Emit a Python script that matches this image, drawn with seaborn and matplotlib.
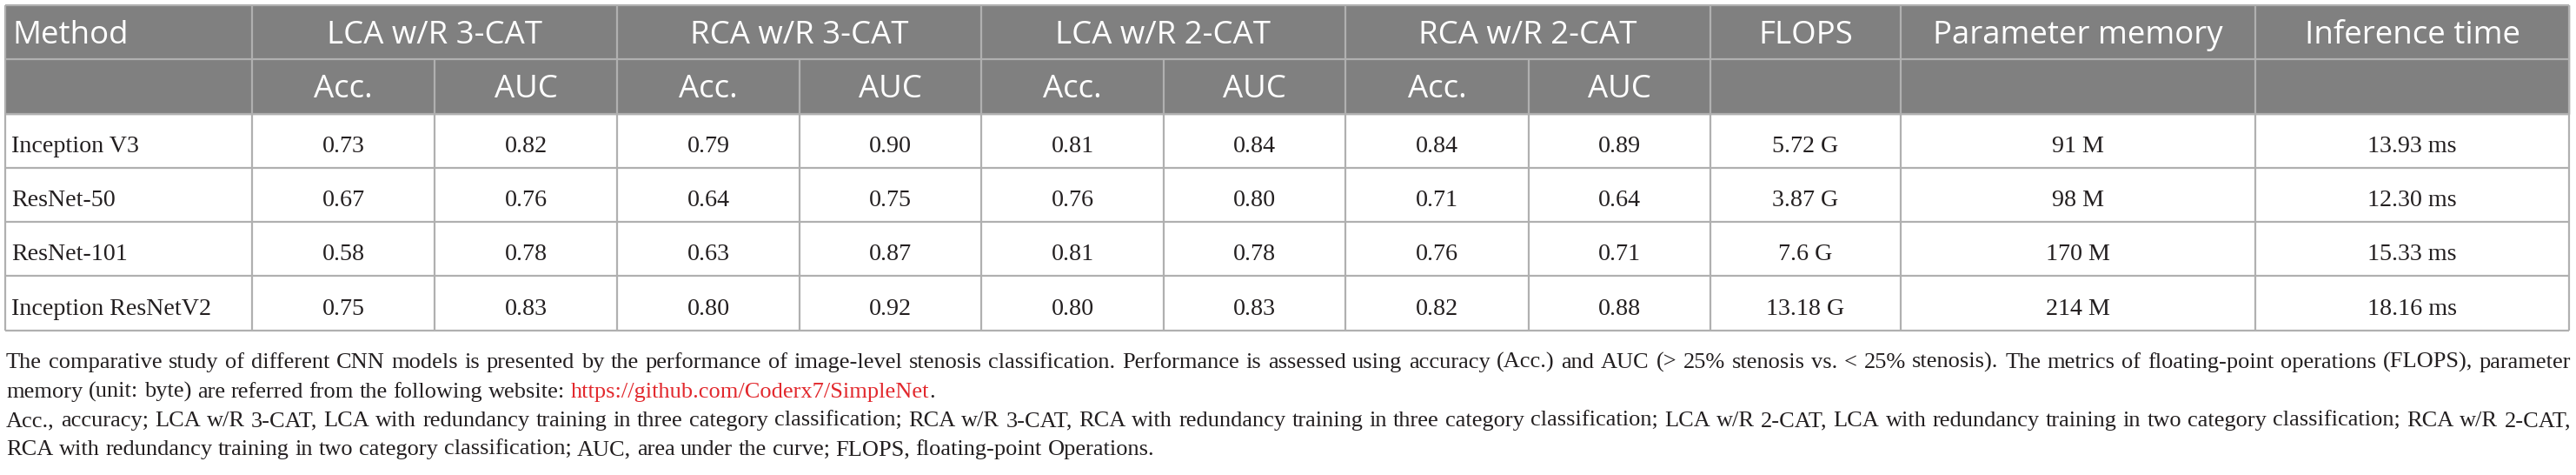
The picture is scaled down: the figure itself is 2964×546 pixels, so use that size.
import matplotlib
matplotlib.use("Agg")
import matplotlib.pyplot as plt
from matplotlib.patches import Rectangle
import seaborn as sns

sns.set_style("white")

# Table data
methods = ["Inception V3", "ResNet-50", "ResNet-101", "Inception ResNetV2"]
groups = ["LCA w/R 3-CAT", "RCA w/R 3-CAT", "LCA w/R 2-CAT", "RCA w/R 2-CAT"]
sub_cols = ["Acc.", "AUC"]
extra_cols = ["FLOPS", "Parameter memory", "Inference time"]

lca3_acc = [0.73, 0.67, 0.58, 0.75]
lca3_auc = [0.82, 0.76, 0.78, 0.83]
rca3_acc = [0.79, 0.64, 0.63, 0.80]
rca3_auc = [0.90, 0.75, 0.87, 0.92]
lca2_acc = [0.81, 0.76, 0.81, 0.80]
lca2_auc = [0.84, 0.80, 0.78, 0.83]
rca2_acc = [0.84, 0.71, 0.76, 0.82]
rca2_auc = [0.89, 0.64, 0.71, 0.88]
flops = ["5.72 G", "3.87 G", "7.6 G", "13.18 G"]
param_memory = ["91 M", "98 M", "170 M", "214 M"]
inference_time = ["13.93 ms", "12.30 ms", "15.33 ms", "18.16 ms"]

caption_lines = [
    "The comparative study of different CNN models is presented by the performance of image-level stenosis "
    "classification. Performance is assessed using accuracy (Acc.) and AUC (> 25% stenosis vs. < 25% stenosis). "
    "The metrics of floating-point operations (FLOPS), parameter",
    "memory (unit: byte) are referred from the following website: https://github.com/Coderx7/SimpleNet.",
    "Acc., accuracy; LCA w/R 3-CAT, LCA with redundancy training in three category classification; RCA w/R 3-CAT, "
    "RCA with redundancy training in three category classification; LCA w/R 2-CAT, LCA with redundancy training in "
    "two category classification; RCA w/R 2-CAT,",
    "RCA with redundancy training in two category classification; AUC, area under the curve; FLOPS, "
    "floating-point Operations.",
]
url = "https://github.com/Coderx7/SimpleNet"

# Layout (pixels)
W, H, DPI = 2964, 546, 100
col_edges = [6, 290, 500, 710, 920, 1129, 1339, 1548, 1759, 1968, 2187, 2595, 2956]
row_edges = [6, 68, 131, 193, 255, 317, 380]
HEAD_BG = "#808080"
GRID = "#b0b0b0"
INK = "#231f20"
LINK = "#e2282d"
SANS = ["Open Sans", "DejaVu Sans"]
SERIF = ["Liberation Serif", "DejaVu Serif"]

fig = plt.figure(figsize=(W / DPI, H / DPI), dpi=DPI)
ax = fig.add_axes([0, 0, 1, 1])
ax.set_xlim(0, W)
ax.set_ylim(H, 0)
ax.axis("off")
renderer = fig.canvas.get_renderer()


def width_of(s, size, family):
    t = ax.text(0, 0, s, fontsize=size, family=family)
    w = t.get_window_extent(renderer).width
    t.remove()
    return w


def fit_size(s, target, family):
    return 20 * target / width_of(s, 20, family)


head_size = fit_size("Parameter memory", 333, SANS)
body_size = 28 * 72 / DPI

# header background
ax.add_patch(Rectangle((col_edges[0], row_edges[0]), col_edges[-1] - col_edges[0],
                       row_edges[2] - row_edges[0], color=HEAD_BG, zorder=0))

# grid lines
for y in row_edges:
    ax.hlines(y, col_edges[0], col_edges[-1], color=GRID, lw=1.6, zorder=2)
inner_dividers = [col_edges[2], col_edges[4], col_edges[6], col_edges[8]]
for x in col_edges:
    y0 = row_edges[1] if x in inner_dividers else row_edges[0]
    ax.vlines(x, y0, row_edges[-1], color=GRID, lw=1.6, zorder=2)

# header text
b1 = (row_edges[0] + row_edges[1]) / 2 + 13
b2 = (row_edges[1] + row_edges[2]) / 2 + 12.5
ax.text(14, b1, "Method", color="white", fontsize=head_size, family=SANS, va="baseline")
for i, g in enumerate(groups):
    x0, x1 = col_edges[1 + 2 * i], col_edges[3 + 2 * i]
    ax.text((x0 + x1) / 2, b1, g, color="white", fontsize=head_size, family=SANS,
            ha="center", va="baseline")
    for j, s in enumerate(sub_cols):
        xa, xb = col_edges[1 + 2 * i + j], col_edges[2 + 2 * i + j]
        ax.text((xa + xb) / 2, b2, s, color="white", fontsize=head_size, family=SANS,
                ha="center", va="baseline")
for k, c in enumerate(extra_cols):
    x0, x1 = col_edges[9 + k], col_edges[10 + k]
    ax.text((x0 + x1) / 2, b1, c, color="white", fontsize=head_size, family=SANS,
            ha="center", va="baseline")

# body
metric_cols = [lca3_acc, lca3_auc, rca3_acc, rca3_auc, lca2_acc, lca2_auc, rca2_acc, rca2_auc]
text_cols = [flops, param_memory, inference_time]
for r, m in enumerate(methods):
    yb = (row_edges[2 + r] + row_edges[3 + r]) / 2 + 13
    ax.text(13, yb, m, color=INK, fontsize=body_size, family=SERIF, va="baseline")
    for c, vals in enumerate(metric_cols):
        xc = (col_edges[1 + c] + col_edges[2 + c]) / 2
        ax.text(xc, yb, f"{vals[r]:.2f}", color=INK, fontsize=body_size, family=SERIF,
                ha="center", va="baseline")
    for c, vals in enumerate(text_cols):
        xc = (col_edges[9 + c] + col_edges[10 + c]) / 2
        ax.text(xc, yb, vals[r], color=INK, fontsize=body_size, family=SERIF,
                ha="center", va="baseline")

# caption, justified word by word
cap_left, cap_right = 7, 2958
cap_base = [423, 457, 490, 523]
target = cap_right - cap_left
cap_size = min(fit_size(caption_lines[0], target, SERIF),
               fit_size(caption_lines[2], target, SERIF)) * 0.99
space_w = width_of("x x", cap_size, SERIF) - width_of("xx", cap_size, SERIF)

for li, line in enumerate(caption_lines):
    words = line.split(" ")
    widths = [width_of(w, cap_size, SERIF) for w in words]
    justify = li in (0, 2)
    gap = (target - sum(widths)) / (len(words) - 1) if justify else space_w
    x = cap_left
    for w, ww in zip(words, widths):
        if w.startswith(url):
            ax.text(x, cap_base[li], url, color=LINK, fontsize=cap_size, family=SERIF, va="baseline")
            uw = width_of(url, cap_size, SERIF)
            ax.text(x + uw, cap_base[li], w[len(url):], color=INK, fontsize=cap_size,
                    family=SERIF, va="baseline")
        else:
            ax.text(x, cap_base[li], w, color=INK, fontsize=cap_size, family=SERIF, va="baseline")
        x += ww + gap

fig.savefig("out.png", dpi=DPI, facecolor="white")
